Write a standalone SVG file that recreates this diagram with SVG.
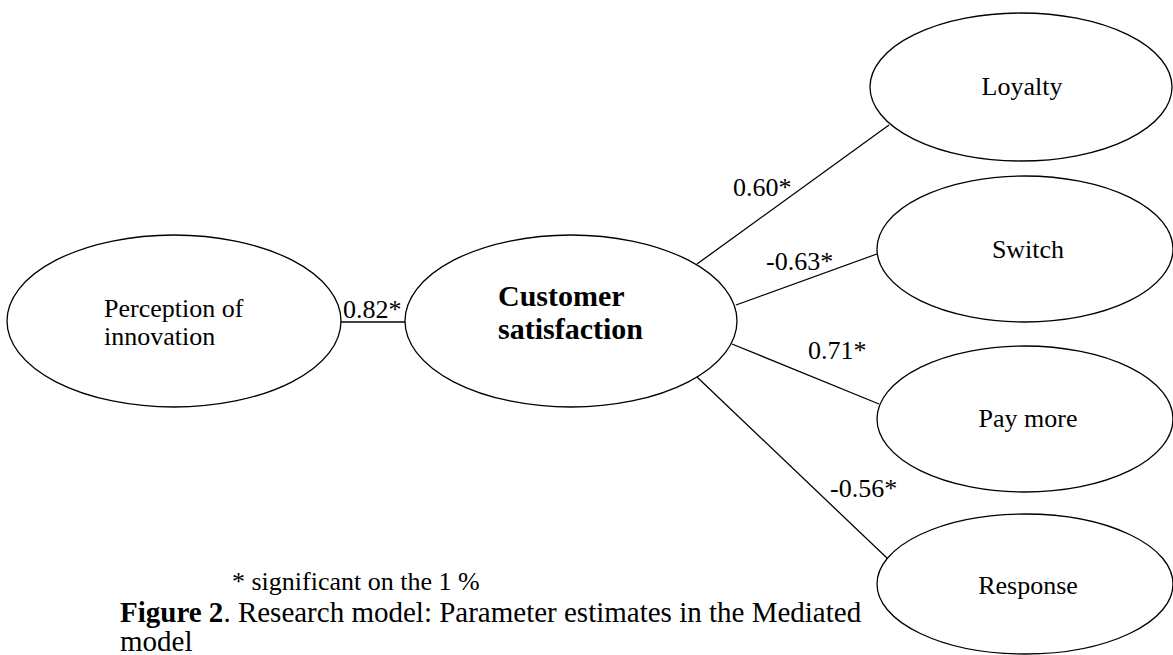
<svg xmlns="http://www.w3.org/2000/svg" width="1173" height="655" viewBox="0 0 1173 655">
<style>
.node{fill:#fff;stroke:#000;stroke-width:1.3}
.t{font-family:"Liberation Serif",serif;font-size:26px;fill:#000}
.b{font-family:"Liberation Serif",serif;font-size:30px;font-weight:bold;fill:#000}
.c{stroke:#000;stroke-width:1.3;fill:none}
</style>
<rect width="1173" height="655" fill="#fff"/>
<g id="connectors">
<line class="c" x1="341" y1="322" x2="405" y2="322"/>
<line class="c" x1="697" y1="264" x2="889" y2="125"/>
<line class="c" x1="736" y1="305" x2="877" y2="254"/>
<line class="c" x1="732" y1="344" x2="879" y2="404"/>
<line class="c" x1="697" y1="377" x2="888" y2="559"/>
<text class="t" x="343" y="318">0.82*</text>
<text class="t" x="733" y="196">0.60*</text>
<text class="t" x="766" y="270">-0.63*</text>
<text class="t" x="808" y="359">0.71*</text>
<text class="t" x="830" y="497">-0.56*</text>
</g>
<g id="perception">
<ellipse class="node" cx="174" cy="321" rx="167" ry="86"/>
<text class="t" x="104" y="317">Perception of</text>
<text class="t" x="104" y="345">innovation</text>
</g>
<g id="satisfaction">
<ellipse class="node" cx="571" cy="321" rx="166" ry="86"/>
<text class="b" x="498" y="306">Customer</text>
<text class="b" x="498" y="339">satisfaction</text>
</g>
<g id="loyalty">
<ellipse class="node" cx="1021" cy="87" rx="151" ry="74"/>
<text class="t" x="1022" y="95" text-anchor="middle">Loyalty</text>
</g>
<g id="switch">
<ellipse class="node" cx="1025" cy="249" rx="148" ry="73"/>
<text class="t" x="1028" y="258" text-anchor="middle">Switch</text>
</g>
<g id="paymore">
<ellipse class="node" cx="1025" cy="419" rx="148" ry="73"/>
<text class="t" x="1028" y="427" text-anchor="middle">Pay more</text>
</g>
<g id="response">
<ellipse class="node" cx="1025" cy="584" rx="148" ry="70"/>
<text class="t" x="1028" y="594" text-anchor="middle">Response</text>
</g>
<g id="notes">
<text class="t" x="232" y="590">* significant on the 1 %</text>
<text class="t" x="120" y="622" style="font-size:29px"><tspan font-weight="bold">Figure 2</tspan>. Research model: Parameter estimates in the Mediated</text>
<text class="t" x="120" y="651" style="font-size:29px">model</text>
</g>
</svg>
